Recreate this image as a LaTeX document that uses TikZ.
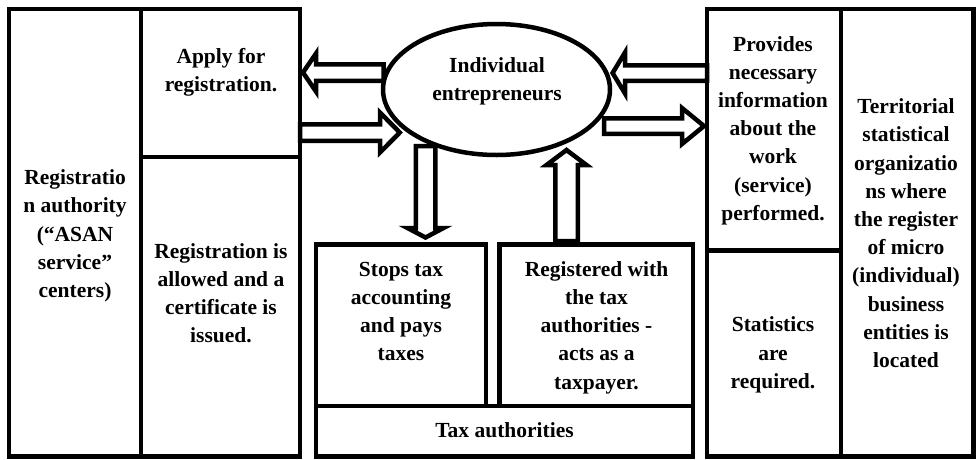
\documentclass[tikz,border=0pt]{standalone}
\usepackage{fontspec}
\setmainfont{Liberation Serif}
\usetikzlibrary{calc,shapes.geometric}
\tikzset{
  cellbox/.style={draw, line width=4.5pt, inner sep=0pt, outer sep=0pt},
  txt/.style={font=\fontsize{21.5}{28.2}\selectfont\bfseries, align=center, inner sep=0pt},
  barrow/.style={draw, fill=white, line width=4.5pt, line join=miter, miter limit=10},
  ovalbox/.style={draw, ellipse, fill=white, line width=4.5pt, inner sep=0pt, outer sep=0pt},
}
% horizontal block arrow: start, tip, shaft half width, head half width, head length
\newcommand{\barrowH}[5]{%
  \draw[barrow] let \p1=(#1), \p2=(#2), \p3=($(#2)!#5!(#1)$) in
    (\x1,\y1+#3) -- (\x3,\y1+#3) -- (\x3,\y1+#4) -- (\x2,\y2) -- (\x3,\y1-#4) -- (\x3,\y1-#3) -- (\x1,\y1-#3) -- cycle;}
% vertical block arrow
\newcommand{\barrowV}[5]{%
  \draw[barrow] let \p1=(#1), \p2=(#2), \p3=($(#2)!#5!(#1)$) in
    (\x1+#3,\y1) -- (\x1+#3,\y3) -- (\x1+#4,\y3) -- (\x2,\y2) -- (\x1-#4,\y3) -- (\x1-#3,\y3) -- (\x1-#3,\y1) -- cycle;}
% cell: name, x1, y1, x2, y2
\newcommand{\cellnode}[5]{%
  \node[cellbox, minimum width={(#4)-(#2)}, minimum height={(#5)-(#3)}] (#1) at ({((#2)+(#4))/2},{((#3)+(#5))/2}) {};}
\begin{document}
\begin{tikzpicture}[x=1pt,y=-1pt]
\useasboundingbox (0,0) rectangle (978,459);
% arrow end points
\coordinate (a1s) at (383.5,72.5); \coordinate (a1e) at (303,72.5);
\coordinate (a2s) at (300,132.5);  \coordinate (a2e) at (399.8,132.5);
\coordinate (a3s) at (425.5,146);  \coordinate (a3e) at (425.5,237.5);
\coordinate (a4s) at (566.5,241);  \coordinate (a4e) at (566.5,150);
\coordinate (a5s) at (707,73);     \coordinate (a5e) at (612.6,73);
\coordinate (a6s) at (604,126);    \coordinate (a6e) at (704,126);
\barrowH{a1s}{a1e}{8.25pt}{19pt}{13pt}
\barrowH{a2s}{a2e}{8.25pt}{20pt}{19.8pt}
\barrowV{a3s}{a3e}{9.75pt}{18pt}{9.5pt}
\barrowV{a4s}{a4e}{11.25pt}{20pt}{15pt}
\barrowH{a5s}{a5e}{7.75pt}{20.5pt}{12.4pt}
\barrowH{a6s}{a6e}{7.75pt}{18pt}{22pt}
% ellipse
\node[ovalbox, minimum width=227pt, minimum height=131pt] (ie) at (496.5,89.5) {};
% cells
\cellnode{auth}{9}{9}{141}{456.5}
\cellnode{apply}{141}{9}{300}{157}
\cellnode{allow}{141}{157}{300}{456.5}
\cellnode{stops}{316}{244.5}{486}{406}
\cellnode{reg}{499.5}{244.5}{693}{406}
\cellnode{tax}{316}{406}{693}{456.5}
\cellnode{prov}{707}{9}{841}{250.7}
\cellnode{stat}{707}{250.7}{841}{456.5}
\cellnode{terr}{841}{9}{973.5}{456.5}
% texts
\node[txt] (tapply) at (221,71.5) {\strut Apply for\\registration.\strut};
\node[txt] (tauth) at (75,235.5) {\strut Registratio\\n authority\\(“ASAN\\service”\\centers)\strut};
\node[txt] (tallow) at (221,295) {\strut Registration is\\allowed and a\\certificate is\\issued.\strut};
\node[txt] (tie) at (497,80.5) {\strut Individual\\entrepreneurs\strut};
\node[txt] (tstops) at (401,313) {\strut Stops tax\\accounting\\and pays\\taxes\strut};
\node[txt] (treg) at (596.5,327) {\strut Registered with\\the tax\\authorities -\\acts as a\\taxpayer.\strut};
\node[txt] (ttax) at (504.5,432) {\strut Tax authorities\strut};
\node[txt] (tprov) at (773,130) {\strut Provides\\necessary\\information\\about the\\work\\(service)\\performed.\strut};
\node[txt] (tstat) at (773,354.5) {\strut Statistics\\are\\required.\strut};
\node[txt] (tterr) at (906,235) {\strut Territorial\\statistical\\organizatio\\ns where\\the register\\of micro\\(individual)\\business\\entities is\\located\strut};
\end{tikzpicture}
\end{document}
